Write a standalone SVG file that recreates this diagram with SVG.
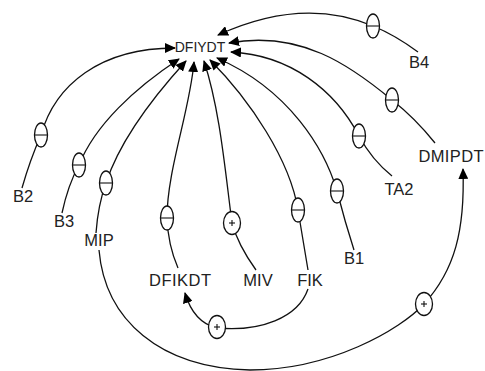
<svg xmlns="http://www.w3.org/2000/svg" width="485" height="371" viewBox="0 0 485 371">
<style>
.lbl{font-family:"Liberation Sans",Arial,sans-serif;font-size:16.5px;fill:#222;text-anchor:middle}
.c{fill:none;stroke:#111;stroke-width:1.3}
.s{fill:#fff;stroke:#111;stroke-width:1.3}
.m{stroke:#111;stroke-width:1.1}
</style>
<defs>
<marker id="ah" viewBox="0 0 11 10" refX="10" refY="5" markerWidth="11" markerHeight="10" markerUnits="userSpaceOnUse" orient="auto">
<path d="M0,0 L11,5 L0,10 z" fill="#000"/>
</marker>
</defs>
<rect width="485" height="371" fill="#fff"/>
<g id="connectors">
<path class="c" marker-end="url(#ah)" d="M418,52 Q395,35 373,26 C340,12 290,2 218,35"/>
<path class="c" marker-end="url(#ah)" d="M435,143 Q415,118 392,100 C350,65 300,30 229,43"/>
<path class="c" marker-end="url(#ah)" d="M392,176 Q372,160 359,136 C335,90 290,55 231,52"/>
<path class="c" marker-end="url(#ah)" d="M354,250 Q345,222 337,191 C325,150 290,90 217,58"/>
<path class="c" marker-end="url(#ah)" d="M308,270 Q303,240 298,210 C290,160 250,100 210,60"/>
<path class="c" marker-end="url(#ah)" d="M256,270 Q238,245 232,223 C225,170 220,110 204,61"/>
<path class="c" marker-end="url(#ah)" d="M178,268 Q168,245 167,218 C167,170 190,110 194,62"/>
<path class="c" marker-end="url(#ah)" d="M96,233 Q98,205 106,183 C120,140 155,95 186,61"/>
<path class="c" marker-end="url(#ah)" d="M62,213 Q68,185 79,165 C95,125 135,88 179,59"/>
<path class="c" marker-end="url(#ah)" d="M22,188 Q30,160 41,135 C55,85 100,48 175,48"/>
<path class="c" marker-end="url(#ah)" d="M308,289 C298,318 260,332 217,328 C200,324 190,310 185,293"/>
<path class="c" marker-end="url(#ah)" d="M99,250 C105,320 160,368 250,370 C330,370 400,330 424,304 C455,270 465,230 463,169"/>
</g>
<g id="signs">
<g id="s-b4"><ellipse class="s" cx="373" cy="26" rx="6.5" ry="12"/><line class="m" x1="367" y1="26" x2="379" y2="26"/></g>
<g id="s-dmipdt"><ellipse class="s" cx="392" cy="100" rx="6.5" ry="12"/><line class="m" x1="386" y1="100" x2="398" y2="100"/></g>
<g id="s-ta2"><ellipse class="s" cx="359" cy="136" rx="6.5" ry="12"/><line class="m" x1="353" y1="136" x2="365" y2="136"/></g>
<g id="s-b1"><ellipse class="s" cx="337" cy="191" rx="6.5" ry="12"/><line class="m" x1="331" y1="191" x2="343" y2="191"/></g>
<g id="s-fik"><ellipse class="s" cx="298" cy="210" rx="6.5" ry="12"/><line class="m" x1="292" y1="210" x2="304" y2="210"/></g>
<g id="s-miv"><ellipse class="s" cx="232" cy="223" rx="8.5" ry="11.5"/><line class="m" x1="229" y1="223" x2="235" y2="223"/><line class="m" x1="232" y1="220" x2="232" y2="226"/></g>
<g id="s-dfikdt"><ellipse class="s" cx="167" cy="218" rx="6.5" ry="12"/><line class="m" x1="161" y1="218" x2="173" y2="218"/></g>
<g id="s-mip"><ellipse class="s" cx="106" cy="183" rx="6.5" ry="12"/><line class="m" x1="100" y1="183" x2="112" y2="183"/></g>
<g id="s-b3"><ellipse class="s" cx="79" cy="165" rx="6.5" ry="12"/><line class="m" x1="73" y1="165" x2="85" y2="165"/></g>
<g id="s-b2"><ellipse class="s" cx="41" cy="135" rx="6.5" ry="12"/><line class="m" x1="35" y1="135" x2="47" y2="135"/></g>
<g id="s-fik-dfikdt"><ellipse class="s" cx="217" cy="327" rx="8.5" ry="11.5"/><line class="m" x1="214" y1="327" x2="220" y2="327"/><line class="m" x1="217" y1="324" x2="217" y2="330"/></g>
<g id="s-mip-dmipdt"><ellipse class="s" cx="424" cy="304" rx="8.5" ry="11.5"/><line class="m" x1="421" y1="304" x2="427" y2="304"/><line class="m" x1="424" y1="301" x2="424" y2="307"/></g>
</g>
<g id="n-dfiydt"><text class="lbl" x="200" y="52" style="font-size:14px">DFIYDT</text></g>
<g id="n-b4"><text class="lbl" x="419" y="68">B4</text></g>
<g id="n-dmipdt"><text class="lbl" x="451" y="162" textLength="65">DMIPDT</text></g>
<g id="n-ta2"><text class="lbl" x="399" y="195">TA2</text></g>
<g id="n-b1"><text class="lbl" x="354" y="264">B1</text></g>
<g id="n-fik"><text class="lbl" x="310" y="286">FIK</text></g>
<g id="n-miv"><text class="lbl" x="258" y="286">MIV</text></g>
<g id="n-dfikdt"><text class="lbl" x="180" y="286" textLength="62">DFIKDT</text></g>
<g id="n-mip"><text class="lbl" x="99" y="246">MIP</text></g>
<g id="n-b3"><text class="lbl" x="64" y="227">B3</text></g>
<g id="n-b2"><text class="lbl" x="23" y="202">B2</text></g>
</svg>
